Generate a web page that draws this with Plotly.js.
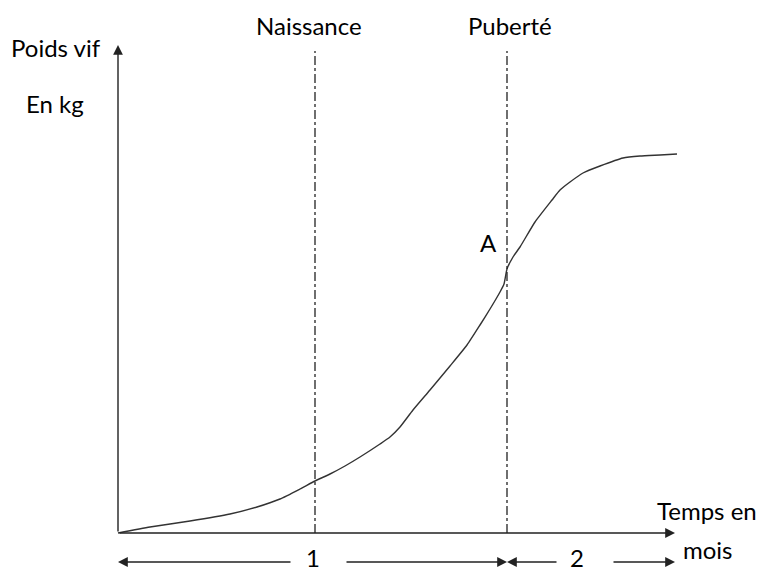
<!DOCTYPE html>
<html>
<head>
<meta charset="utf-8">
<script src="https://cdn.plot.ly/plotly-3.0.1.min.js"></script>
<style>html,body{margin:0;padding:0;background:#fff;}#chart{width:760px;height:574px;}</style>
</head>
<body>
<div id="chart"></div>
<script>
// Growth curve (time units, weight units)
var curveX = [0, 32, 72, 112, 139, 162, 182, 197, 212, 227, 242, 262, 272, 282, 295, 312, 332, 349, 362, 372, 382, 386, 389, 395, 402, 417, 434, 442, 452, 465, 482, 505, 522, 542, 559];
var curveY = [0, 6, 12, 19, 26, 34, 44, 52, 59, 67, 76, 89, 96, 106, 123, 143, 167, 188, 208, 224, 241, 249, 264, 276, 286, 311, 333, 343, 351, 360, 367, 375, 377, 378, 379];

// Vertical event markers
var eventX = [197, 389];
var eventLabels = ["Naissance", "Puberté"];
var eventTop = 488;

// Axis extents
var xAxisEnd = 557;
var yAxisEnd = 488;

// Period segments along the time axis
var periodStart = [0, 389];
var periodEnd = [389, 557];
var periodLabels = ["1", "2"];
var periodLabelX = [195, 459];

var FONT = {family: "Lato, 'Open Sans', sans-serif", size: 24, color: "#000"};
var LC = "#222";

var shapes = [];
var annotations = [];

function arrow(x, y, ax, ay) {
  return {x: x, y: y, ax: ax, ay: ay, xref: 'x', yref: 'y', axref: 'x', ayref: 'y',
    showarrow: true, arrowhead: 2, arrowsize: 1.4, arrowwidth: 1.4, arrowcolor: LC, text: ''};
}
function label(x, y, t, extra) {
  var a = {x: x, y: y, xref: 'x', yref: 'y', text: t, showarrow: false, font: FONT, borderpad: 0};
  if (extra) for (var k in extra) a[k] = extra[k];
  return a;
}

// axes (arrows)
annotations.push(arrow(0, yAxisEnd, 0, 0));
annotations.push(arrow(xAxisEnd, 0, 0, 0));

// event lines
eventX.forEach(function (ex, i) {
  shapes.push({type: 'line', xref: 'x', yref: 'y', x0: ex, x1: ex, y0: 0, y1: eventTop - 6,
    line: {color: LC, width: 1.3, dash: 'dashdot'}});
  annotations.push(arrow(ex, eventTop, ex, eventTop - 4));
  annotations.push(label(ex - 6 + i * 9, 508, eventLabels[i]));
});

// period double arrows
var periodY = -29;
periodStart.forEach(function (s, i) {
  var e = periodEnd[i];
  var lx = periodLabelX[i];
  var gap = i === 0 ? [174, 227] : [440, 494];
  annotations.push(arrow(s, periodY, gap[0], periodY));
  annotations.push(arrow(e, periodY, gap[1], periodY));
  annotations.push(label(lx, -40, periodLabels[i], {yanchor: 'bottom'}));
});

// text labels
annotations.push(label(-62, 486, 'Poids vif'));
annotations.push(label(-63, 430, 'En kg'));
annotations.push(label(370, 291, 'A'));
annotations.push(label(589, 23, 'Temps en'));
annotations.push(label(590, -16, 'mois'));

var trace = {x: curveX, y: curveY, mode: 'lines', type: 'scatter',
  line: {color: '#333', width: 1.4, shape: 'spline', smoothing: 0.5}, hoverinfo: 'skip', showlegend: false};

var layout = {
  width: 760, height: 574, autosize: false,
  margin: {l: 0, r: 0, t: 0, b: 0, pad: 0},
  paper_bgcolor: '#fff', plot_bgcolor: '#fff',
  xaxis: {range: [-118, 642], visible: false, fixedrange: true},
  yaxis: {range: [-41, 533], visible: false, fixedrange: true},
  shapes: shapes, annotations: annotations, showlegend: false
};

Plotly.newPlot('chart', [trace], layout, {staticPlot: true, displayModeBar: false});
</script>
</body>
</html>
